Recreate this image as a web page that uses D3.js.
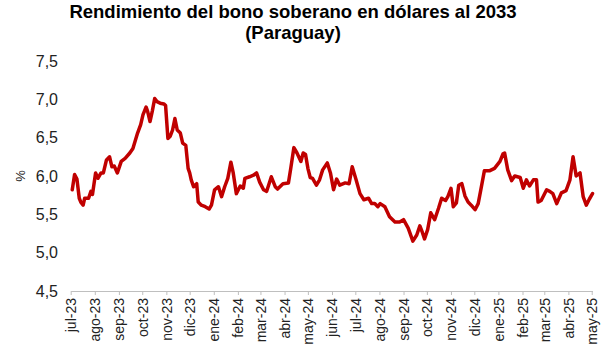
<!DOCTYPE html>
<html><head><meta charset="utf-8">
<script src="https://cdn.jsdelivr.net/npm/d3@7"></script>
<style>body{margin:0;background:#fff}svg{display:block;font-family:Arial,"Liberation Sans",sans-serif}</style>
</head><body><svg id="c" width="607" height="360"></svg>
<script>
const title1 = "Rendimiento del bono soberano en dólares al 2033";
const title2 = "(Paraguay)";
const yLabel = "%";
const yTicks = [4.5, 5.0, 5.5, 6.0, 6.5, 7.0, 7.5];
const monthNames = ["ene","feb","mar","abr","may","jun","jul","ago","sep","oct","nov","dic"];
const dates = ["2023-07-03","2023-07-06","2023-07-09","2023-07-12","2023-07-14","2023-07-17","2023-07-19","2023-07-24","2023-07-27","2023-07-29",
"2023-08-02","2023-08-05","2023-08-09","2023-08-12","2023-08-16","2023-08-20","2023-08-23","2023-08-26","2023-08-30","2023-09-04",
"2023-09-09","2023-09-15","2023-09-19","2023-09-25","2023-09-29","2023-10-02","2023-10-06","2023-10-08","2023-10-11","2023-10-14",
"2023-10-17","2023-10-20","2023-10-24","2023-10-29","2023-10-31","2023-11-03","2023-11-06","2023-11-09","2023-11-12","2023-11-15",
"2023-11-19","2023-11-22","2023-11-26","2023-11-29","2023-12-01","2023-12-03","2023-12-06","2023-12-10","2023-12-12","2023-12-16",
"2023-12-21","2023-12-26","2023-12-29","2024-01-02","2024-01-07","2024-01-11","2024-01-15","2024-01-19","2024-01-23","2024-01-26",
"2024-01-30","2024-02-04","2024-02-08","2024-02-10","2024-02-16","2024-02-21","2024-02-25","2024-02-29","2024-03-05","2024-03-09",
"2024-03-15","2024-03-20","2024-03-23","2024-03-30","2024-04-06","2024-04-09","2024-04-13","2024-04-17","2024-04-22","2024-04-25",
"2024-04-28","2024-05-01","2024-05-04","2024-05-07","2024-05-12","2024-05-16","2024-05-20","2024-05-26","2024-05-30","2024-06-03",
"2024-06-07","2024-06-11","2024-06-18","2024-06-23","2024-06-27","2024-07-02","2024-07-07","2024-07-12","2024-07-18","2024-07-22",
"2024-07-26","2024-07-30","2024-08-02","2024-08-08","2024-08-14","2024-08-21","2024-08-27","2024-09-01","2024-09-07","2024-09-13",
"2024-09-18","2024-09-22","2024-09-25","2024-09-28","2024-10-02","2024-10-06","2024-10-11","2024-10-16","2024-10-20","2024-10-25",
"2024-10-28","2024-11-01","2024-11-04","2024-11-08","2024-11-11","2024-11-15","2024-11-19","2024-11-23","2024-11-27","2024-12-02",
"2024-12-06","2024-12-09","2024-12-14","2024-12-21","2024-12-27","2025-01-03","2025-01-07","2025-01-09","2025-01-13","2025-01-18",
"2025-01-22","2025-01-29","2025-02-02","2025-02-06","2025-02-10","2025-02-15","2025-02-19","2025-02-21","2025-02-25","2025-03-04",
"2025-03-08","2025-03-12","2025-03-17","2025-03-23","2025-03-29","2025-04-03","2025-04-07","2025-04-11","2025-04-16","2025-04-20",
"2025-04-24","2025-04-28","2025-05-02"];
const yields = [5.82,6.02,5.96,5.71,5.66,5.62,5.71,5.71,5.80,5.76,
6.04,5.97,6.04,6.04,6.21,6.25,6.12,6.13,6.04,6.19,
6.23,6.30,6.36,6.56,6.67,6.80,6.90,6.84,6.71,6.85,
7.01,6.97,6.95,6.94,6.92,6.49,6.52,6.60,6.75,6.60,
6.56,6.43,6.40,6.10,6.04,5.95,5.86,5.90,5.66,5.62,
5.60,5.57,5.62,5.82,5.86,5.73,5.86,5.97,6.18,6.04,
5.77,5.87,5.84,5.97,5.99,6.01,6.04,5.92,5.82,5.80,
5.99,5.86,5.83,5.90,5.91,6.10,6.37,6.30,6.19,6.30,
6.28,6.10,5.98,5.97,5.88,5.95,6.08,6.17,6.04,5.82,
5.96,5.88,5.91,5.90,6.12,5.95,5.77,5.69,5.71,5.64,
5.64,5.60,5.64,5.60,5.47,5.40,5.40,5.43,5.32,5.15,
5.23,5.35,5.27,5.18,5.30,5.52,5.43,5.58,5.71,5.68,
5.73,5.84,5.60,5.65,5.88,5.90,5.74,5.66,5.62,5.56,
5.64,5.80,6.07,6.07,6.10,6.19,6.29,6.30,6.08,5.94,
6.00,5.98,5.84,5.95,5.87,5.95,5.95,5.66,5.68,5.82,
5.80,5.77,5.64,5.78,5.81,5.95,6.25,6.00,6.04,5.73,
5.62,5.70,5.77];

const parse = d3.timeParse("%Y-%m-%d");
const data = dates.map((d, i) => ({date: parse(d), v: yields[i]}));

const svg = d3.select("#c");
const x = d3.scaleTime().domain([parse("2023-07-01"), parse("2025-05-02")]).range([70.7, 592.5]);
const y = d3.scaleLinear().domain([4.5, 7.5]).range([291, 61]);

svg.append("text").attr("x", 293).attr("y", 18).attr("text-anchor", "middle")
  .attr("font-size", 18.5).attr("font-weight", "bold").attr("fill", "#000").text(title1);
svg.append("text").attr("x", 293).attr("y", 39).attr("text-anchor", "middle")
  .attr("font-size", 18.5).attr("font-weight", "bold").attr("fill", "#000").text(title2);

// y axis labels
const yAxis = d3.axisLeft(y).tickValues(yTicks).tickSize(0).tickPadding(0)
  .tickFormat(d => d3.format(".1f")(d).replace(".", ","));
const gy = svg.append("g").attr("transform", "translate(58,0)").call(yAxis);
gy.select(".domain").remove();
gy.selectAll("text").attr("font-size", 16).attr("fill", "#222").attr("font-family", "Arial, 'Liberation Sans', sans-serif");

svg.append("text").attr("transform", "translate(25,176) rotate(-90)").attr("text-anchor", "middle")
  .attr("font-size", 13).attr("fill", "#222").text(yLabel);

// x axis
const months = d3.timeMonth.range(parse("2023-07-01"), parse("2025-05-02"));
const xAxis = d3.axisBottom(x).tickValues(months).tickSize(4).tickSizeOuter(0)
  .tickFormat(d => monthNames[d.getMonth()] + "-" + d3.timeFormat("%y")(d));
const gx = svg.append("g").attr("transform", "translate(0,291)").call(xAxis);
gx.select(".domain").attr("stroke", "#bfbfbf");
gx.selectAll(".tick line").attr("stroke", "#bfbfbf");
gx.selectAll("text").attr("font-size", 14).attr("fill", "#222")
  .attr("font-family", "Arial, 'Liberation Sans', sans-serif")
  .attr("text-anchor", "end").attr("dy", "0.35em")
  .attr("transform", "translate(0,7) rotate(-90)").attr("x", 0).attr("y", 0);

const line = d3.line().x(d => x(d.date)).y(d => y(d.v));
svg.append("path").datum(data).attr("d", line).attr("fill", "none")
  .attr("stroke", "#c00000").attr("stroke-width", 3.5)
  .attr("stroke-linejoin", "round").attr("stroke-linecap", "round");
</script></body></html>
